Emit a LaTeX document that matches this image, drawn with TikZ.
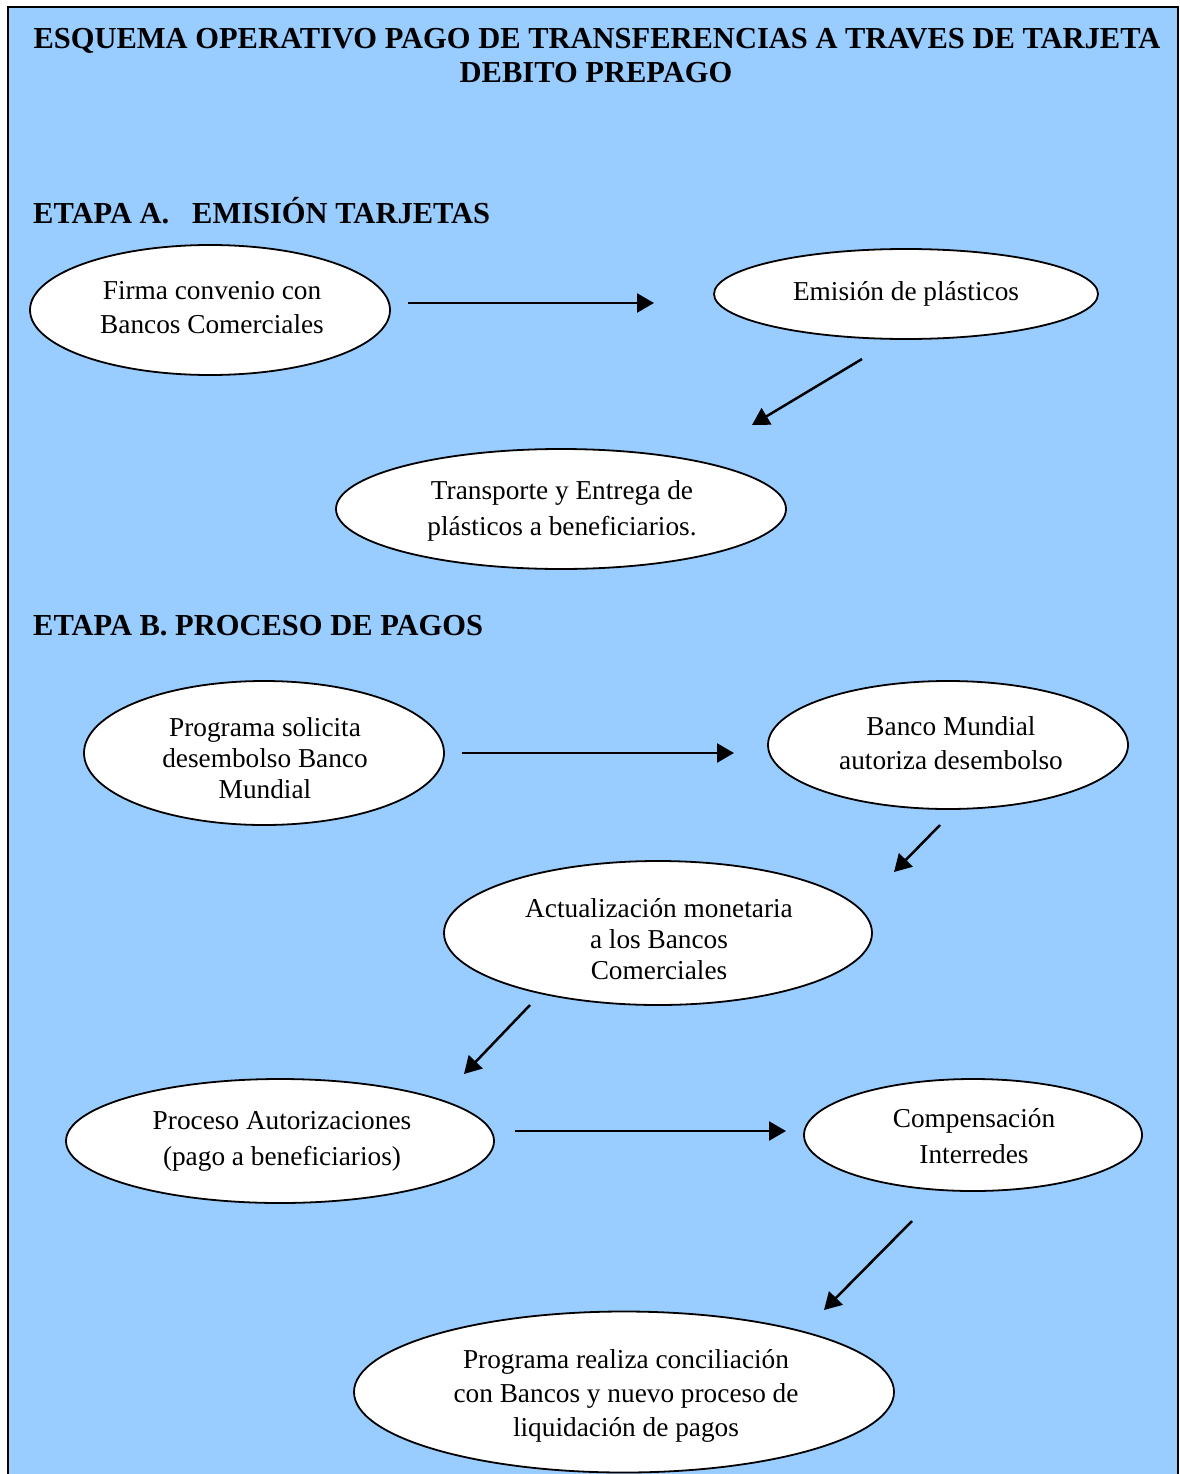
\documentclass[tikz,border=0pt]{standalone}
\usepackage{fontspec}
\setmainfont{Liberation Serif}
\usetikzlibrary{arrows.meta,shapes.geometric}
\definecolor{bgblue}{HTML}{99CCFF}
\begin{document}
\begin{tikzpicture}[x=1pt,y=-1pt,
  oval/.style={draw=black,line width=1.8pt,fill=white,ellipse,inner sep=0pt},
  txt/.style={align=center,inner sep=0pt,font=\fontsize{27.3}{34}\selectfont},
  flow/.style={line width=2.5pt,-{Triangle[length=17pt,width=19pt]}},
  ttl/.style={font=\fontsize{30.5}{34}\selectfont\bfseries,inner sep=0pt,anchor=base}]
\useasboundingbox (0,0) rectangle (1179,1474);
\draw[fill=bgblue,line width=2.5pt] (8,1490) -- (8,7) -- (1178,7) -- (1178,1490);
% titles
\node[ttl] (t1) at (597,49) {ESQUEMA OPERATIVO PAGO DE TRANSFERENCIAS A TRAVES DE TARJETA};
\node[ttl] (t2) at (596,83) {DEBITO PREPAGO};
\node[ttl,anchor=base west] (ha) at (33,223) {ETAPA A.\hspace{0.75em}EMISIÓN TARJETAS};
\node[ttl,anchor=base west] (hb) at (33,635) {ETAPA B. PROCESO DE PAGOS};
% ellipses
\node[oval,minimum width=360pt,minimum height=130pt] (n1) at (210,310) {};
\node[txt] (n1t) at (212,308) {Firma convenio con\\Bancos Comerciales};
\node[oval,minimum width=384pt,minimum height=90pt] (n2) at (906,294) {};
\node[txt] (n2t) at (906,294) {Emisión de plásticos};
\node[oval,minimum width=450pt,minimum height=120pt] (n3) at (561,509) {};
\node[txt,font=\fontsize{27.3}{36}\selectfont] (n3t) at (562,511) {Transporte y Entrega de\\plásticos a beneficiarios.};
\node[oval,minimum width=360pt,minimum height=144pt] (n4) at (264,753) {};
\node[txt,font=\fontsize{27.3}{31}\selectfont] (n4t) at (265,758) {Programa solicita\\desembolso Banco\\Mundial};
\node[oval,minimum width=360pt,minimum height=128pt] (n5) at (948,745) {};
\node[txt] (n5t) at (951,743) {Banco Mundial\\autoriza desembolso};
\node[oval,minimum width=428pt,minimum height=144pt] (n6) at (658,933) {};
\node[txt,font=\fontsize{27.3}{31}\selectfont] (n6t) at (659,939) {Actualización monetaria\\a los Bancos\\Comerciales};
\node[oval,minimum width=428pt,minimum height=124pt] (n7) at (280,1141) {};
\node[txt,font=\fontsize{27.3}{36}\selectfont] (n7t) at (282,1141) {Proceso Autorizaciones\\(pago a beneficiarios)};
\node[oval,minimum width=338pt,minimum height=112pt] (n8) at (973,1135) {};
\node[txt,font=\fontsize{27.3}{36}\selectfont] (n8t) at (974,1136) {Compensación\\Interredes};
\node[oval,minimum width=540pt,minimum height=161pt] (n9) at (624,1392) {};
\node[txt] (n9t) at (626,1396) {Programa realiza conciliación\\con Bancos y nuevo proceso de\\liquidación de pagos};
% arrow end points
\coordinate (a1s) at (408,303); \coordinate (a1e) at (654,303);
\coordinate (a2s) at (862,359); \coordinate (a2e) at (752,425);
\coordinate (a3s) at (462,753); \coordinate (a3e) at (734,753);
\coordinate (a4s) at (940,825); \coordinate (a4e) at (894,872);
\coordinate (a5s) at (530,1005); \coordinate (a5e) at (464,1074);
\coordinate (a6s) at (515,1131); \coordinate (a6e) at (786,1131);
\coordinate (a7s) at (912,1221); \coordinate (a7e) at (824,1310);
\draw[flow] (a1s) -- (a1e);
\draw[flow] (a2s) -- (a2e);
\draw[flow] (a3s) -- (a3e);
\draw[flow] (a4s) -- (a4e);
\draw[flow] (a5s) -- (a5e);
\draw[flow] (a6s) -- (a6e);
\draw[flow] (a7s) -- (a7e);
\end{tikzpicture}
\end{document}
